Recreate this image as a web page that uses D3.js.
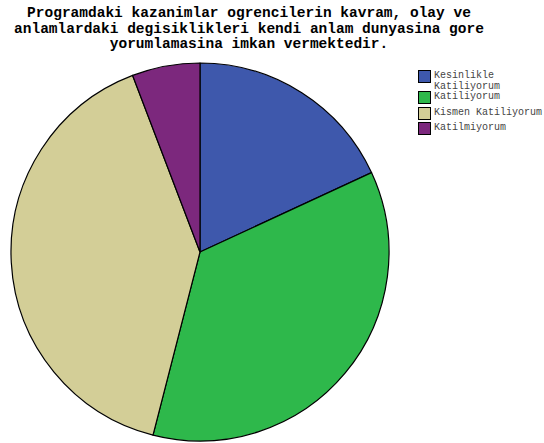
<!DOCTYPE html>
<html><head><meta charset="utf-8">
<script src="https://cdn.jsdelivr.net/npm/d3@7"></script>
<style>body{margin:0;background:#fff}</style>
</head><body>
<script>
const titleLines = ["Programdaki kazanimlar ogrencilerin kavram, olay ve","anlamlardaki degisiklikleri kendi anlam dunyasina gore","yorumlamasina imkan vermektedir."];
const categories = ["Kesinlikle Katiliyorum","Katiliyorum","Kismen Katiliyorum","Katilmiyorum"];
const legendLines = [["Kesinlikle","Katiliyorum"],["Katiliyorum"],["Kismen Katiliyorum"],["Katilmiyorum"]];
const values = [18.1, 35.9, 40.2, 5.8];
const colors = ["#3E58AC","#2EB84B","#D3CE97","#7C287D"];

const W=544,H=443;
const svg=d3.select("body").append("svg").attr("width",W).attr("height",H);

svg.append("g").selectAll("text").data(titleLines).join("text")
  .attr("x",249).attr("y",(d,i)=>17+i*15.5)
  .attr("text-anchor","middle")
  .attr("font-family","'Liberation Mono', monospace").attr("font-weight","bold")
  .attr("font-size","14.5px").attr("fill","#000").text(d=>d);

const cx=200, cy=252, r=189;
const pie=d3.pie().sort(null).value(d=>d);
const arc=d3.arc().innerRadius(0).outerRadius(r);
svg.append("g").attr("transform",`translate(${cx},${cy})`)
  .selectAll("path").data(pie(values)).join("path")
  .attr("d",arc).attr("fill",(d,i)=>colors[i])
  .attr("stroke","#000").attr("stroke-width",1.2).attr("stroke-linejoin","round");

const ys=[70,91,107,122];
const lg=svg.append("g");
categories.forEach((c,i)=>{
  lg.append("rect").attr("x",418.5).attr("y",ys[i]+0.5).attr("width",12).attr("height",12)
    .attr("fill",colors[i]).attr("stroke","#000").attr("stroke-width",1);
  legendLines[i].forEach((t,j)=>{
    lg.append("text").attr("x",434).attr("y",ys[i]+8+j*10.5)
      .attr("font-family","'Liberation Mono', monospace").attr("font-size","10px")
      .attr("fill","#444").text(t);
  });
});
</script>
</body></html>
